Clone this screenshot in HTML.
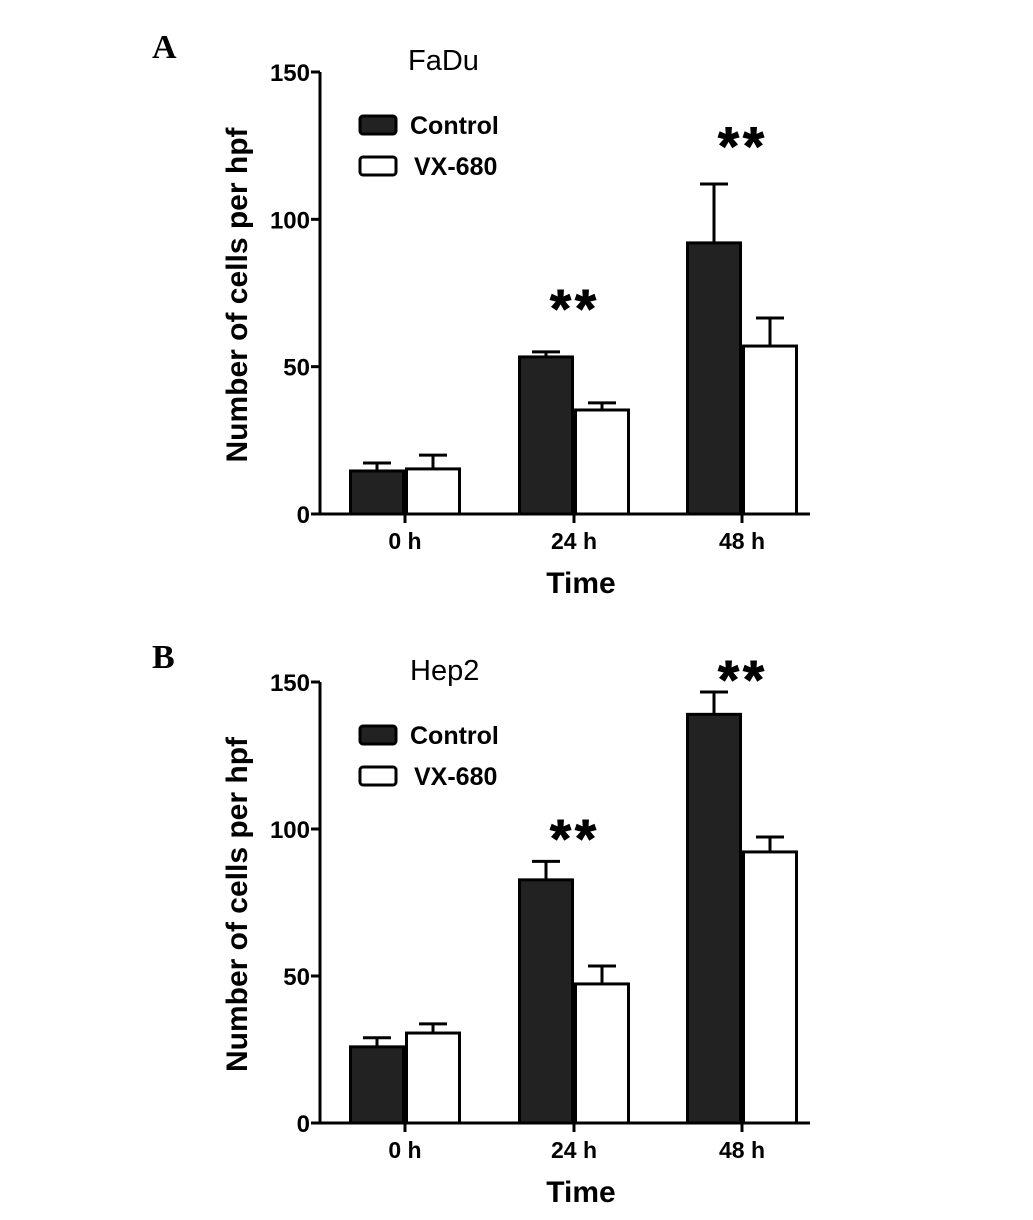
<!DOCTYPE html>
<html><head><meta charset="utf-8"><style>
body{margin:0;background:#fff}
svg{display:block;font-family:"Liberation Sans",Arial,sans-serif}
</style></head><body>
<svg id="fig" width="1033" height="1220" viewBox="0 0 1033 1220" xmlns="http://www.w3.org/2000/svg"></svg>
<script>
const categories=["0 h","24 h","48 h"];
const yTicks=[0,50,100,150];
const fadControl=[14.6,53.3,92];
const fadControlErr=[2.7,1.7,20];
const fadVX=[15.3,35.3,57];
const fadVXErr=[4.7,2.4,9.5];
const hepControl=[25.9,82.7,139];
const hepControlErr=[3.1,6.3,7.6];
const hepVX=[30.6,47.3,92.2];
const hepVXErr=[3.1,6.1,5.1];
const fadStars=[null,"**","**"];
const fadStarLevel=[null,71,126];
const hepStars=[null,"**","**"];
const hepStarLevel=[null,98,152];

const NS="http://www.w3.org/2000/svg";
const svg=document.getElementById('fig');
function mk(tag,attrs,parent){const e=document.createElementNS(NS,tag);for(const k in attrs)e.setAttribute(k,attrs[k]);(parent||svg).appendChild(e);return e;}

function panel(o){
  const g=mk('g',{});
  
  
  const x0=320,x1=810,yTop=o.top,yBot=o.bot;
  const yS=v=>yBot-(v/150)*(yBot-yTop);
  const centers=[405,574,742];
  const xC=i=>centers[i];
  const bw=56;
  const L=mk('text',{x:152,y:o.top-14,'font-family':'Liberation Serif,serif','font-weight':'bold','font-size':34},g);L.textContent=o.letter;
  
  const T=mk('text',{x:o.titleX,y:o.top-2,'font-size':29},g);T.textContent=o.title;
  
  const ya=mk('line',{x1:x0,y1:yTop,x2:x0,y2:yBot,stroke:'#000','stroke-width':3},g);
  
  const xa=mk('line',{x1:x0-8,y1:yBot,x2:x1,y2:yBot,stroke:'#000','stroke-width':3},g);
  
  yTicks.forEach(v=>{
    mk('line',{x1:x0-9,y1:yS(v),x2:x0,y2:yS(v),stroke:'#000','stroke-width':3},g);
    const t=mk('text',{x:x0-10,y:yS(v)+9,'text-anchor':'end','font-size':24,'font-weight':'bold'},g);t.textContent=v;
    
  });
  categories.forEach((c,i)=>{
    mk('line',{x1:xC(i),y1:yBot,x2:xC(i),y2:yBot+9,stroke:'#000','stroke-width':3},g);
    const t=mk('text',{x:xC(i),y:yBot+35,'text-anchor':'middle','font-size':23,'font-weight':'bold'},g);t.textContent=c;
    
  });
  const yl=mk('text',{transform:`translate(${x0-73},${(yTop+yBot)/2+2}) rotate(-90)`,'text-anchor':'middle','font-size':30,'font-weight':'bold'},g);
  yl.textContent='Number of cells per hpf';
  
  const xl=mk('text',{x:581,y:yBot+79,'text-anchor':'middle','font-size':30,'font-weight':'bold'},g);
  xl.textContent='Time';
  const series=[[o.c,o.ce,'#222','control'],[o.v,o.ve,'#fff','vx680']];
  series.forEach((s,si)=>{
    s[0].forEach((val,i)=>{
      const bx=si===0?xC(i)-bw:xC(i);
      const ey=yS(val+s[1][i]);
      const cx=bx+bw/2;
      const el=mk('line',{x1:cx,y1:yS(val),x2:cx,y2:ey,stroke:'#000','stroke-width':3},g);
      
      mk('line',{x1:cx-14,y1:ey,x2:cx+14,y2:ey,stroke:'#000','stroke-width':3},g);
      const r=mk('rect',{x:bx+1.5,y:yS(val),width:bw-3,height:yBot-yS(val),fill:s[2],stroke:'#000','stroke-width':3},g);
      
    });
  });
  o.stars.forEach((s,i)=>{
    if(!s)return;
    const t=mk('text',{x:xC(i)+1,y:yS(o.starLevel[i])+22,'text-anchor':'middle','font-size':54,'font-weight':'bold','letter-spacing':4,stroke:'#000','stroke-width':1},g);
    t.textContent=s;
  });
  const lg=mk('g',{},g);
  const ly=o.top+44;
  mk('rect',{x:360,y:ly,width:36,height:18,rx:3,fill:'#222',stroke:'#000','stroke-width':3},lg);
  let t=mk('text',{x:410,y:ly+18,'font-size':25,'font-weight':'bold'},lg);t.textContent='Control';
  
  mk('rect',{x:360,y:ly+41,width:36,height:18,rx:3,fill:'#fff',stroke:'#000','stroke-width':3},lg);
  t=mk('text',{x:414,y:ly+59,'font-size':25,'font-weight':'bold'},lg);t.textContent='VX-680';
  
}
panel({name:'panel-a-fadu',letter:'A',title:'FaDu',titleX:408,top:72,bot:514,c:fadControl,ce:fadControlErr,v:fadVX,ve:fadVXErr,stars:fadStars,starLevel:fadStarLevel});
panel({name:'panel-b-hep2',letter:'B',title:'Hep2',titleX:410,top:682,bot:1123,c:hepControl,ce:hepControlErr,v:hepVX,ve:hepVXErr,stars:hepStars,starLevel:hepStarLevel});
</script>
</body></html>
